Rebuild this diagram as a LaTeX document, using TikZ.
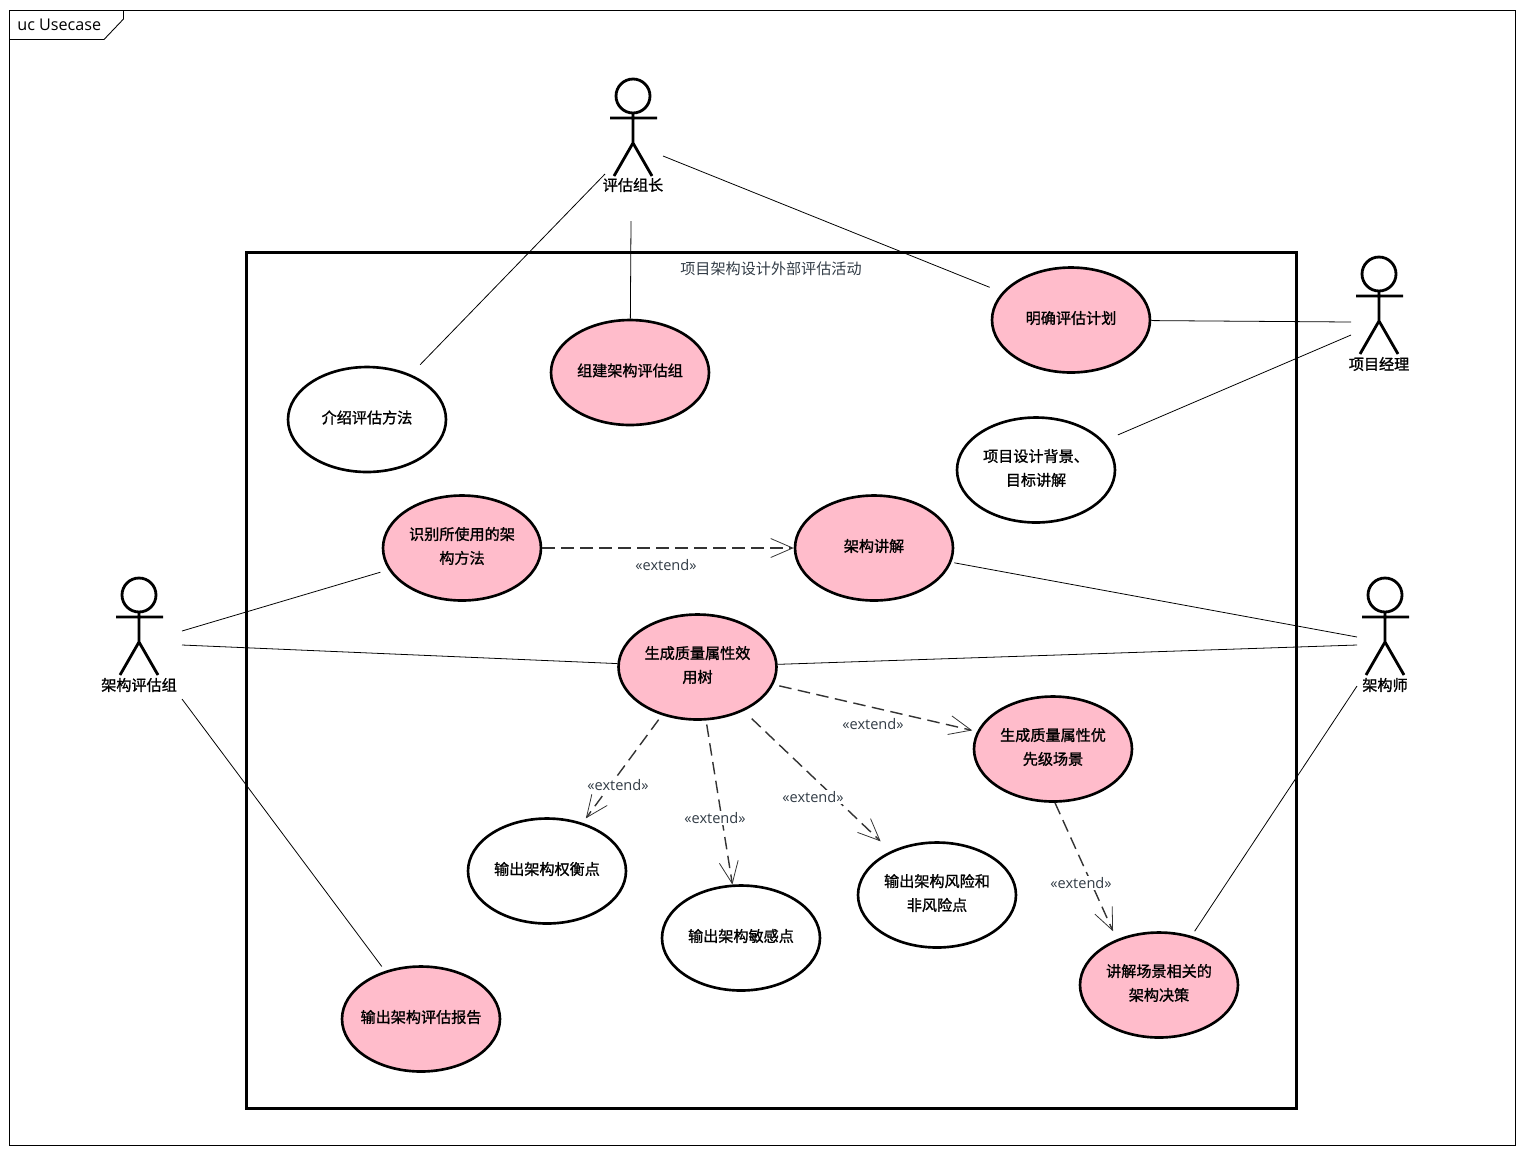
\documentclass[tikz,border=0pt]{standalone}
\usepackage{fontspec}
\usetikzlibrary{arrows.meta, shapes.geometric}
\setmainfont{Open Sans}
\newfontfamily\cjkthin{Noto Sans CJK SC}
\newfontfamily\cjkbold[FakeBold=1.2]{Noto Sans CJK SC}
\definecolor{usecasepink}{RGB}{255,188,203}
\definecolor{labelgrey}{RGB}{50,60,70}
\tikzset{
    usecase/.style = {ellipse, draw, line width = 1.5pt, minimum width = 3.16cm, minimum height = 2.1cm,
        inner xsep = -0.4cm, inner ysep = 0pt, align = center, text depth = 3pt,
        font = \cjkbold\fontsize{8.6}{13.6}\selectfont},
    activecase/.style = {usecase, fill = usecasepink},
    plaincase/.style = {usecase, fill = white},
    actorname/.style = {font = \cjkbold\fontsize{8.6}{10}\selectfont, inner sep = 0pt},
    extendlabel/.style = {font = \fontsize{8.3}{10}\selectfont, text = labelgrey, fill = white, inner sep = 1pt},
    assoc/.style = {line width = 0.45pt},
    extendarrow/.style = {line width = 0.8pt, dash pattern = on 0.25cm off 0.13cm, draw = black!80,
        -{Straight Barb[length = 0.44cm, width = 0.38cm, line width = 0.45pt, sep = 0pt]}},
    pics/actor/.style = {code = {
        \draw[line width = 1.6pt] (0,0) circle (0.34cm);
        \draw[line width = 1.6pt] (0,17) -- (0,47) (-23,22) -- (24,22) (-19,80) -- (0,47) -- (19,80);
    }}
}

\begin{document}
\begin{tikzpicture}[x = 0.02cm, y = -0.02cm]
    \useasboundingbox (0,0) rectangle (1524,1154);

    % Outer frame
    \draw[line width = 0.5pt] (9.5,10) rectangle (1515.5,1145);
    \draw[line width = 0.5pt] (9.5,39.5) -- (104,39.5) -- (123.5,19) -- (123.5,10);
    \node[anchor = west, font = \fontsize{9.2}{11}\selectfont, inner sep = 0pt] (frametitle) at (17,25) {uc Usecase};

    % System boundary
    \draw[line width = 1.5pt] (246.5,252.5) rectangle (1296.5,1108.5);
    \node[font = \cjkthin\fontsize{8.6}{10}\selectfont, text = labelgrey] (boundarytitle) at (771,269) {项目架构设计外部评估活动};

    % Actors
    \pic at (633,96) {actor};
    \pic at (1379,274) {actor};
    \pic at (139,595) {actor};
    \pic at (1385,595) {actor};
    \node[actorname] (leader) at (633,185) {评估组长};
    \node[actorname] (manager) at (1379,364) {项目经理};
    \node[actorname] (evalgroup) at (139,685) {架构评估组};
    \node[actorname] (architect) at (1385,685) {架构师};

    % Free ends of the associations
    \coordinate (leaderA) at (605,174);
    \coordinate (leaderB) at (631,221);
    \coordinate (leaderC) at (663,156);
    \coordinate (managerA) at (1351,322);
    \coordinate (managerB) at (1351,335);
    \coordinate (evalA) at (182,631);
    \coordinate (evalB) at (182,645);
    \coordinate (evalC) at (182,699);
    \coordinate (archA) at (1357,637);
    \coordinate (archB) at (1357,645);
    \coordinate (archC) at (1357,686);

    % Use cases
    \node[activecase] (plan) at (1071,320) {明确评估计划};
    \node[activecase] (team) at (630,372.5) {组建架构评估组};
    \node[plaincase] (method) at (367,419.5) {介绍评估方法};
    \node[plaincase] (background) at (1036,470) {项目设计背景、\\目标讲解};
    \node[activecase] (identify) at (462,548) {识别所使用的架\\构方法};
    \node[activecase] (present) at (874,548) {架构讲解};
    \node[activecase] (tree) at (697.5,667) {生成质量属性效\\用树};
    \node[activecase] (scenario) at (1053,749) {生成质量属性优\\先级场景};
    \node[plaincase] (tradeoff) at (547,871) {输出架构权衡点};
    \node[plaincase] (sensitive) at (741,938) {输出架构敏感点};
    \node[plaincase] (risk) at (937,895) {输出架构风险和\\非风险点};
    \node[activecase] (decision) at (1159,985) {讲解场景相关的\\架构决策};
    \node[activecase] (report) at (421,1019) {输出架构评估报告};

    % Associations
    \draw[assoc, shorten > = 0.27cm] (leaderA) -- (method);
    \draw[assoc] (leaderB) -- (team);
    \draw[assoc, shorten > = 0.27cm] (leaderC) -- (plan);
    \draw[assoc] (plan) -- (managerA);
    \draw[assoc, shorten < = 0.31cm] (background) -- (managerB);
    \draw[assoc, shorten > = 0.17cm] (evalA) -- (identify);
    \draw[assoc] (evalB) -- (tree);
    \draw[assoc, shorten > = 0.11cm] (evalC) -- (report);
    \draw[assoc, shorten < = 0.06cm] (present) -- (archA);
    \draw[assoc] (tree) -- (archB);
    \draw[assoc, shorten < = 0.11cm] (decision) -- (archC);

    % Extends
    \draw[extendarrow] (identify) -- (present);
    \draw[extendarrow, shorten < = 0.12cm, shorten > = 0.1cm] (tree) -- (scenario);
    \draw[extendarrow, shorten < = 0.11cm, shorten > = 0.11cm] (tree) -- (tradeoff);
    \draw[extendarrow, shorten < = 0.08cm] (tree) -- (sensitive);
    \draw[extendarrow, shorten < = 0.22cm, shorten > = 0.28cm] (tree) -- (risk);
    \draw[extendarrow] ([xshift = 0.04cm]scenario.south) -- ([xshift = -0.92cm]decision.north);

    \node[extendlabel] (extA) at (666,565) {«extend»};
    \node[extendlabel] (extB) at (873,724) {«extend»};
    \node[extendlabel] (extC) at (618,785) {«extend»};
    \node[extendlabel] (extD) at (715,818) {«extend»};
    \node[extendlabel] (extE) at (813,797) {«extend»};
    \node[extendlabel] (extF) at (1081,883) {«extend»};

\end{tikzpicture}
\end{document}
